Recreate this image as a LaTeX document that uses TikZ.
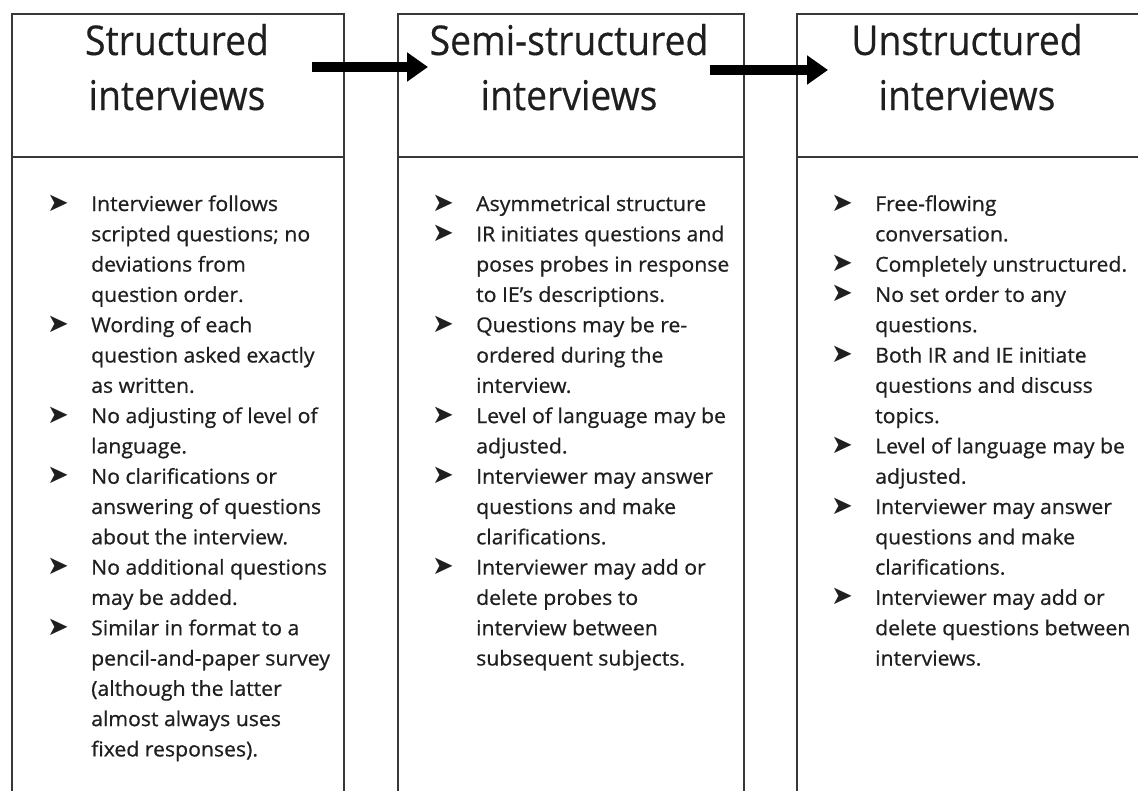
\documentclass[tikz,border=0pt]{standalone}
\usepackage{fontspec}
\setmainfont[FakeStretch=1.035,FakeBold=0.7]{Open Sans}
\newfontfamily\headfont[FakeStretch=0.91,FakeBold=0.4]{Open Sans}
\newfontfamily\bulletfont{DejaVu Sans}
\usetikzlibrary{arrows.meta}
\newcommand\bul{{\bulletfont\fontsize{26}{30.3}\selectfont ➤}}
\begin{document}
\begin{tikzpicture}[x=1pt,y=-1pt,
  frame/.style={draw=black!78,line width=1.8pt,rectangle,inner sep=0pt,anchor=north west},
  headtext/.style={anchor=base,inner sep=0pt,text=black!88,font=\headfont\fontsize{41}{55}\selectfont},
  bodytext/.style={anchor=base west,inner sep=0pt,text=black!88,font=\fontsize{20.5}{30.3}\selectfont},
  flow/.style={line width=10pt,-{Triangle[length=21pt,width=28pt]}}
]
\useasboundingbox (0,0) rectangle (1138,790);
\clip (0,0) rectangle (1138,790);
% header boxes
\node[frame,minimum width=332pt,minimum height=143pt] (h1) at (11,13) {};
\node[frame,minimum width=346pt,minimum height=143pt] (h2) at (397,13) {};
\node[frame,minimum width=343pt,minimum height=143pt] (h3) at (796,13) {};
% body boxes
\node[frame,minimum width=332pt,minimum height=660pt] (b1) at (11,156) {};
\node[frame,minimum width=346pt,minimum height=660pt] (b2) at (397,156) {};
\node[frame,minimum width=343pt,minimum height=660pt] (b3) at (796,156) {};
% header texts
\node[headtext] (ht1) at (177,55) {\begin{tabular}[t]{@{}c@{}}Structured\\interviews\end{tabular}};
\node[headtext] (ht2) at (569,55) {\begin{tabular}[t]{@{}c@{}}Semi-structured\\interviews\end{tabular}};
\node[headtext] (ht3) at (967,55) {\begin{tabular}[t]{@{}c@{}}Unstructured\\interviews\end{tabular}};
% body texts
\node[bodytext] (t1) at (47,211) {\begin{tabular}[t]{@{}p{44pt}@{}l@{}}
\bul & Interviewer follows\\
 & scripted questions; no\\
 & deviations from\\
 & question order.\\
\bul & Wording of each\\
 & question asked exactly\\
 & as written.\\
\bul & No adjusting of level of\\
 & language.\\
\bul & No clarifications or\\
 & answering of questions\\
 & about the interview.\\
\bul & No additional questions\\
 & may be added.\\
\bul & Similar in format to a\\
 & pencil-and-paper survey\\
 & (although the latter\\
 & almost always uses\\
 & fixed responses).
\end{tabular}};
\node[bodytext] (t2) at (432,211) {\begin{tabular}[t]{@{}p{44pt}@{}l@{}}
\bul & Asymmetrical structure\\
\bul & IR initiates questions and\\
 & poses probes in response\\
 & to IE's descriptions.\\
\bul & Questions may be re-\\
 & ordered during the\\
 & interview.\\
\bul & Level of language may be\\
 & adjusted.\\
\bul & Interviewer may answer\\
 & questions and make\\
 & clarifications.\\
\bul & Interviewer may add or\\
 & delete probes to\\
 & interview between\\
 & subsequent subjects.
\end{tabular}};
\node[bodytext] (t3) at (831,211) {\begin{tabular}[t]{@{}p{44pt}@{}l@{}}
\bul & Free-flowing\\
 & conversation.\\
\bul & Completely unstructured.\\
\bul & No set order to any\\
 & questions.\\
\bul & Both IR and IE initiate\\
 & questions and discuss\\
 & topics.\\
\bul & Level of language may be\\
 & adjusted.\\
\bul & Interviewer may answer\\
 & questions and make\\
 & clarifications.\\
\bul & Interviewer may add or\\
 & delete questions between\\
 & interviews.
\end{tabular}};
% arrows
\coordinate (a1s) at (312,67);
\coordinate (a1e) at (428,67);
\coordinate (a2s) at (710,70);
\coordinate (a2e) at (828,70);
\draw[flow] (a1s) -- (a1e);
\draw[flow] (a2s) -- (a2e);
\end{tikzpicture}
\end{document}
